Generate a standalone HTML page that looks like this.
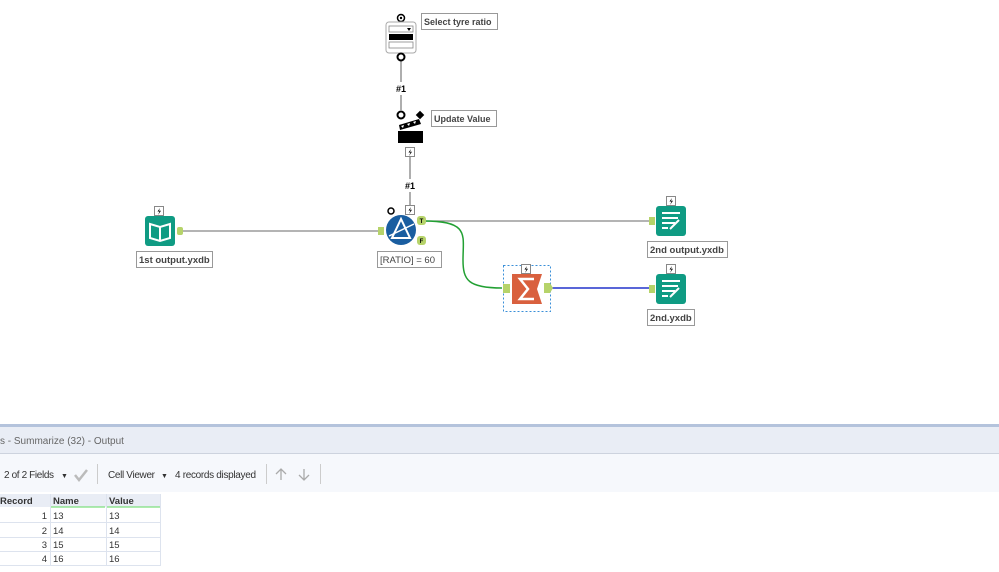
<!DOCTYPE html>
<html><head><meta charset="utf-8"><style>
html,body{margin:0;padding:0;background:#fff;width:999px;height:572px;overflow:hidden;font-family:"Liberation Sans",sans-serif;}
svg text{font-family:"Liberation Sans",sans-serif;}
</style></head><body>
<svg width="999" height="572" viewBox="0 0 999 572" xmlns="http://www.w3.org/2000/svg">
<defs>
<g id="bolt"><rect x="-0.5" y="-0.5" width="9" height="9" fill="#fff" stroke="#888"/><path d="M5 1 L2.5 4.5 L4.5 4.5 L3 8 L6 3.8 L4 3.8Z" fill="#000"/></g>
</defs>
<rect width="999" height="572" fill="#fff"/>
<line x1="401" y1="60" x2="401" y2="110" stroke="#777" stroke-width="1.2"/>
<rect x="394" y="82" width="14" height="13" fill="#fff"/>
<text x="401" y="92" font-size="9" font-weight="bold" text-anchor="middle">#1</text>
<line x1="410" y1="157" x2="410" y2="207" stroke="#777" stroke-width="1.2"/>
<rect x="403" y="179" width="14" height="13" fill="#fff"/>
<text x="410" y="189" font-size="9" font-weight="bold" text-anchor="middle">#1</text>
<line x1="183" y1="231" x2="381" y2="231" stroke="#888" stroke-width="1.2"/>
<line x1="424" y1="221" x2="650" y2="221" stroke="#888" stroke-width="1.2"/>
<path d="M424 221 C470 221 463 235 463 260 C463 280 468 288 502 288" stroke="#22a033" stroke-width="1.5" fill="none"/>
<line x1="551" y1="288" x2="651" y2="288" stroke="#2233cc" stroke-width="1.5"/>

<circle cx="401" cy="18" r="3.5" fill="#fff" stroke="#000" stroke-width="1.5"/><circle cx="401" cy="18" r="1.2" fill="#000"/>
<rect x="386" y="22" width="30" height="31" rx="3" fill="#fff" stroke="#aaa"/>
<rect x="389" y="26" width="24" height="6" fill="#fff" stroke="#888" stroke-width="0.8"/>
<path d="M407 28 L411 28 L409 31Z" fill="#000"/>
<rect x="389" y="34" width="24" height="6" fill="#000"/>
<rect x="389" y="42" width="24" height="6" fill="#fff" stroke="#888" stroke-width="0.8"/>
<circle cx="401" cy="57" r="3.5" fill="#fff" stroke="#000" stroke-width="2"/>
<rect x="421.5" y="13.5" width="76" height="16" fill="#fff" stroke="#999"/>
<text x="424" y="25" font-size="9" font-weight="bold" fill="#444">Select tyre ratio</text>

<circle cx="401" cy="115" r="3.5" fill="#fff" stroke="#000" stroke-width="2"/>
<path d="M399 125 L419 119 L421 124 L400 130Z" fill="#000"/>
<path d="M401 126 l3 -1 l-1 3z M407 124 l3 -1 l-1 3z M413 122 l3 -1 l-1 3z" fill="#fff"/>
<rect x="398" y="131" width="25" height="12" fill="#000"/>
<rect x="417" y="112" width="6" height="6" fill="#000" transform="rotate(45 420 115)"/>
<use href="#bolt" x="406" y="148"/>
<rect x="431.5" y="110.5" width="65" height="16" fill="#fff" stroke="#999"/>
<text x="434" y="122" font-size="9" font-weight="bold" fill="#444">Update Value</text>

<use href="#bolt" x="406" y="206"/>
<circle cx="391" cy="211" r="3" fill="#fff" stroke="#000" stroke-width="1.5"/>
<circle cx="401" cy="230" r="15" fill="#1a5ea0"/>
<path d="M401 219 L392 238 L410 238Z" fill="none" stroke="#fff" stroke-width="2"/>
<line x1="389" y1="236" x2="414" y2="224" stroke="#fff" stroke-width="1.5"/>
<rect x="378" y="227" width="6" height="8" fill="#b6d36a"/>
<rect x="417" y="216" width="9" height="9" rx="3" fill="#b6d36a"/>
<text x="421.5" y="223" font-size="6" font-weight="bold" text-anchor="middle">T</text>
<rect x="417" y="236" width="9" height="9" rx="3" fill="#b6d36a"/>
<text x="421.5" y="243" font-size="6" font-weight="bold" text-anchor="middle">F</text>
<rect x="377.5" y="251.5" width="64" height="16" fill="#fff" stroke="#999"/>
<text x="380" y="263" font-size="9.5" fill="#444">[RATIO] = 60</text>

<use href="#bolt" x="155" y="207"/>
<rect x="145" y="216" width="30" height="30" rx="3" fill="#0f9b83"/>
<path d="M150 224 L160 227 L170 224 L170 238 L160 241 L150 238Z" fill="none" stroke="#fff" stroke-width="2"/>
<line x1="160" y1="227" x2="160" y2="241" stroke="#fff" stroke-width="2"/>
<rect x="177" y="227" width="6" height="8" rx="2" fill="#b6d36a"/>
<rect x="136.5" y="251.5" width="76" height="16" fill="#fff" stroke="#999"/>
<text x="139" y="263" font-size="9.5" font-weight="bold" fill="#444">1st output.yxdb</text>

<use href="#bolt" x="667" y="197"/>
<rect x="656" y="206" width="30" height="30" rx="3" fill="#0f9b83"/>
<path d="M662 213 H680 M662 218 H678 M662 223 H675 M662 228 H668 M670 229 L679 220" stroke="#fff" stroke-width="2" fill="none"/>
<rect x="649" y="217" width="6" height="8" fill="#b6d36a"/>
<rect x="647.5" y="241.5" width="80" height="16" fill="#fff" stroke="#999"/>
<text x="650" y="253" font-size="9.5" font-weight="bold" fill="#444">2nd output.yxdb</text>

<use href="#bolt" x="667" y="265"/>
<rect x="656" y="274" width="30" height="30" rx="3" fill="#0f9b83"/>
<path d="M662 281 H680 M662 286 H678 M662 291 H675 M662 296 H668 M670 297 L679 288" stroke="#fff" stroke-width="2" fill="none"/>
<rect x="649" y="285" width="6" height="8" fill="#b6d36a"/>
<rect x="647.5" y="309.5" width="47" height="16" fill="#fff" stroke="#999"/>
<text x="650" y="321" font-size="9.5" font-weight="bold" fill="#444">2nd.yxdb</text>

<rect x="503.5" y="265.5" width="47" height="46" fill="none" stroke="#3a8fd8" stroke-dasharray="2,2"/>
<use href="#bolt" x="522" y="265"/>
<path d="M512 274 H542 L537 289 L542 304 H512Z" fill="#d9603e"/>
<path d="M534 279 H520 L528 289 L520 299 H534" fill="none" stroke="#fff" stroke-width="2.5"/>
<rect x="503" y="284" width="7" height="9" fill="#b6d36a"/>
<path d="M544 283 H550 L553 288 L550 293 H544Z" fill="#b6d36a"/>

<rect x="0" y="424" width="999" height="3" fill="#b4c3dc"/>
<rect x="0" y="427" width="999" height="26" fill="#e9edf5"/>
<rect x="0" y="453" width="999" height="1" fill="#cdd3de"/>
<text x="0" y="444" font-size="10" fill="#666">s - Summarize (32) - Output</text>
<rect x="0" y="454" width="999" height="38" fill="#f6f8fc"/>
<text x="4" y="478" font-size="10" fill="#333" textLength="50">2 of 2 Fields</text>
<text x="61" y="478" font-size="7" fill="#333">▼</text>
<path d="M75 475 L79 480 L87 470" stroke="#bbb" stroke-width="2.5" fill="none"/>
<line x1="97.5" y1="464" x2="97.5" y2="484" stroke="#ccc"/>
<text x="108" y="478" font-size="10" fill="#333" textLength="47">Cell Viewer</text>
<text x="161" y="478" font-size="7" fill="#333">▼</text>
<text x="175" y="478" font-size="10" fill="#333" textLength="81">4 records displayed</text>
<line x1="266.5" y1="464" x2="266.5" y2="484" stroke="#ccc"/>
<path d="M281 480 V469 M276 474 L281 469 L286 474" stroke="#aaa" stroke-width="1.3" fill="none"/>
<path d="M304 469 V480 M299 475 L304 480 L309 475" stroke="#aaa" stroke-width="1.3" fill="none"/>
<line x1="320.5" y1="464" x2="320.5" y2="484" stroke="#ccc"/>

<rect x="0" y="494" width="160" height="13" fill="#e9edf5"/>
<line x1="51" y1="507" x2="105" y2="507" stroke="#7ee07e" stroke-width="1.2"/>
<line x1="107" y1="507" x2="160" y2="507" stroke="#7ee07e" stroke-width="1.2"/>
<text x="0" y="504" font-size="9.5" font-weight="bold" fill="#333">Record</text>
<text x="53" y="504" font-size="9.5" font-weight="bold" fill="#333">Name</text>
<text x="109" y="504" font-size="9.5" font-weight="bold" fill="#333">Value</text>
<g stroke="#dde3ee" fill="none">
<line x1="50.5" y1="494" x2="50.5" y2="566"/>
<line x1="106.5" y1="494" x2="106.5" y2="566"/>
<line x1="160.5" y1="494" x2="160.5" y2="566"/>
<line x1="0" y1="522.5" x2="160" y2="522.5"/>
<line x1="0" y1="537.5" x2="160" y2="537.5"/>
<line x1="0" y1="551.5" x2="160" y2="551.5"/>
<line x1="0" y1="565.5" x2="160" y2="565.5"/>
</g>
<g font-size="9.5" fill="#333">
<text x="47" y="519" text-anchor="end">1</text><text x="53" y="519">13</text><text x="109" y="519">13</text>
<text x="47" y="534" text-anchor="end">2</text><text x="53" y="534">14</text><text x="109" y="534">14</text>
<text x="47" y="548" text-anchor="end">3</text><text x="53" y="548">15</text><text x="109" y="548">15</text>
<text x="47" y="562" text-anchor="end">4</text><text x="53" y="562">16</text><text x="109" y="562">16</text>
</g>
</svg>
</body></html>
